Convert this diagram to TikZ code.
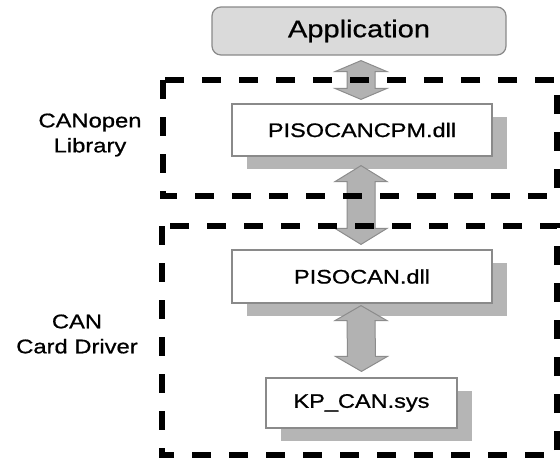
\documentclass[tikz,border=0pt]{standalone}
\usepackage{fontspec}
\setmainfont{Liberation Sans}[FakeStretch=1.2,FakeBold=0.8]
\usetikzlibrary{calc,shadows}
\definecolor{boxline}{HTML}{8A8A8A}
\definecolor{shadowgray}{HTML}{B5B5B5}
\definecolor{appfill}{HTML}{DADADA}
\definecolor{arrowfill}{HTML}{B2B2B2}
\definecolor{arrowline}{HTML}{8C8C8C}
\tikzset{
  filebox/.style={draw=boxline, line width=1.2pt, fill=white, inner sep=0pt,
    font=\fontsize{19.6}{23}\selectfont,
    drop shadow={shadow xshift=15pt, shadow yshift=-13pt, fill=shadowgray, opacity=1}},
  appbox/.style={draw=boxline, line width=1.2pt, fill=appfill, rounded corners=9pt,
    inner sep=0pt, font=\fontsize{24.2}{28}\selectfont},
  sidelabel/.style={align=center, inner sep=0pt, font=\fontsize{19.8}{25}\selectfont},
  dashbox/.style={draw=black, line width=5.5pt, dash pattern=on 19pt off 18pt},
  blockarrow/.style={fill=arrowfill, draw=arrowline, line width=1pt, line join=miter}
}
\newcommand\dblblock[3]{%
  \path[blockarrow] (#1) -- ($(#1)+(26,#3)$) -- ($(#1)+(14,#3)$) -- ($(#2)+(14,-#3)$)
    -- ($(#2)+(26,-#3)$) -- (#2) -- ($(#2)+(-26,-#3)$) -- ($(#2)+(-14,-#3)$)
    -- ($(#1)+(-14,#3)$) -- ($(#1)+(-26,#3)$) -- cycle;}
\begin{document}
\begin{tikzpicture}[x=1pt,y=-1pt]
\fill[white] (0,0) rectangle (560,459);
\useasboundingbox (0,0) rectangle (560,459);

% boxes
\node[appbox, minimum width=294pt, minimum height=48pt] (app) at (359,31) {Application};
\node[filebox, minimum width=260pt, minimum height=52pt] (cpm) at (362,130) {PISOCANCPM.dll};
\node[filebox, minimum width=260pt, minimum height=53pt] (pcan) at (362,276.5) {PISOCAN.dll};
\node[filebox, minimum width=191pt, minimum height=50pt] (kp) at (361.5,403) {KP\_CAN.sys};

% side labels
\node[sidelabel] (lib) at (90,135) {CANopen\\Library};
\node[sidelabel] (drv) at (77,334) {CAN\\Card Driver};

% block arrows
\coordinate (a1t) at ($(app.south)+(2,5)$);
\coordinate (a1b) at ($(cpm.north)+(-1,-4)$);
\dblblock{a1t}{a1b}{11}
\coordinate (a2t) at ($(cpm.south)+(-1,9)$);
\coordinate (a2b) at ($(pcan.north)+(-1,-5)$);
\dblblock{a2t}{a2b}{16}
\coordinate (a3t) at ($(pcan.south)+(-1,2)$);
\coordinate (a3b) at ($(kp.north)+(0,-6)$);
\dblblock{a3t}{a3b}{15}

% dashed group frames
\draw[dashbox] (163,80) rectangle (557,196);
\draw[dashbox] (162,226) rectangle (557,455);
\end{tikzpicture}
\end{document}
